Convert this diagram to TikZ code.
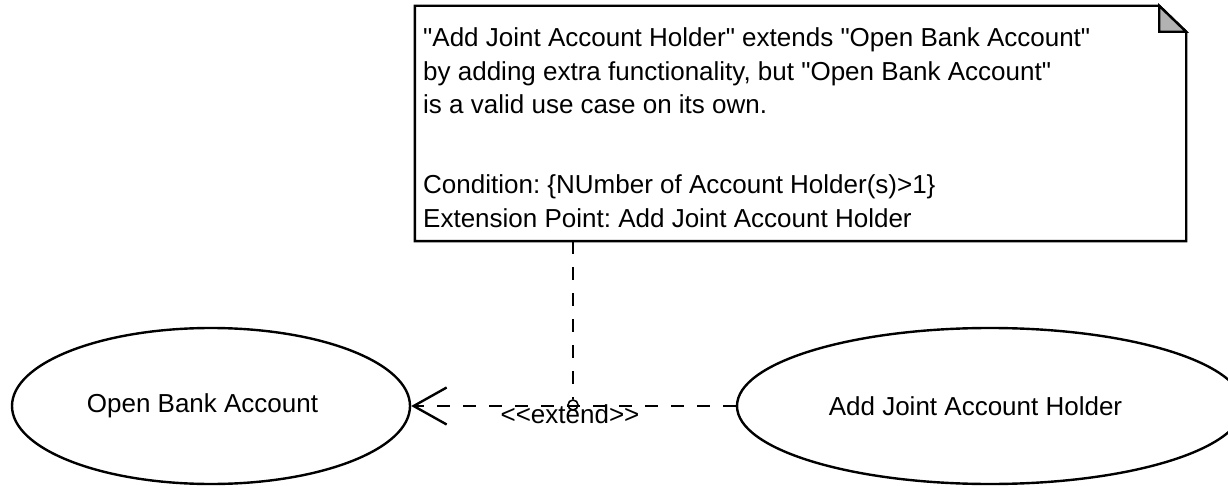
\documentclass[tikz,border=0pt]{standalone}
\usepackage{fontspec}
\setmainfont{Liberation Sans}[Ligatures=TeXOff]
\usetikzlibrary{shapes.geometric,arrows.meta,calc}
\definecolor{foldgray}{RGB}{178,178,178}
\frenchspacing
\begin{document}
\begin{tikzpicture}[x=1pt,y=-1pt,line width=2.4pt,
  uc/.style={ellipse,draw,inner sep=0pt,minimum height=156pt},
  lbl/.style={font=\frenchspacing\fontsize{26pt}{31pt}\selectfont,inner sep=0pt},
  dashline/.style={dash pattern=on 13pt off 13pt},
  notebox/.style={inner sep=0pt,minimum width=769pt,minimum height=233pt}]
\useasboundingbox (0,0) rectangle (1228,486);
\clip (0,0) rectangle (1228,486);
% use cases
\node[uc,minimum width=398pt] (oba) at (211,406) {};
\node[uc,minimum width=506pt] (ajh) at (990,406) {};
\node[lbl] (obat) at (202.5,406) {Open Bank Account};
\node[lbl] (ajht) at (975.5,406) {Add Joint Account Holder};
% note
\node[notebox] (note) at (800.5,123.5) {};
\draw[fill=white] (note.north west) -- ($(note.north east)+(-27,0)$)
  -- ($(note.north east)+(0,26)$) -- (note.south east) -- (note.south west) -- cycle;
\draw[fill=foldgray,line join=miter] ($(note.north east)+(-27,0)$) -- ($(note.north east)+(-27,26)$)
  -- ($(note.north east)+(0,26)$) -- cycle;
\node[lbl,anchor=base west] (l1) at (422,47) {"Add Joint Account Holder" extends "Open Bank Account"};
\node[lbl,anchor=base west] (l2) at (422,80.5) {by adding extra functionality, but "Open Bank Account"};
\node[lbl,anchor=base west] (l3) at (422,114) {is a valid use case on its own.};
\node[lbl,anchor=base west] (l4) at (422,194) {Condition: \{NUmber of Account Holder(s)>1\}};
\node[lbl,anchor=base west] (l5) at (422,228) {Extension Point: Add Joint Account Holder};
% extend relation
\draw[dashline,-{Straight Barb[length=33pt,width=37pt]}] (ajh.west) -- (oba.east);
\node[circle,draw,line width=1.6pt,minimum size=10pt,inner sep=0pt] (circ) at (573,405) {};
\draw[dashline] (note.south -| circ.north) -- (circ.north);
\node[lbl,anchor=base] (ext) at (570,423) {<{}<extend>{}>};
\end{tikzpicture}
\end{document}
